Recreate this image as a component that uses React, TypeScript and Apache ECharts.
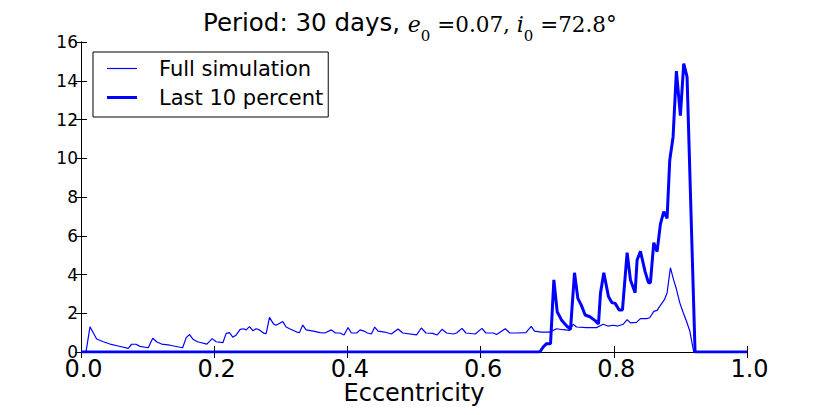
import React, { useEffect, useRef } from "react";
import * as echarts from "echarts";

// Full simulation (thin line): eccentricity and values
const eFull = [
  0.0, 0.0075, 0.0135, 0.0235, 0.0335, 0.0435, 0.056, 0.071, 0.076, 0.0826, 0.0886,
  0.101, 0.1077, 0.1146, 0.121, 0.1336, 0.1526, 0.158, 0.163, 0.168, 0.175, 0.189,
  0.197, 0.203, 0.213, 0.218, 0.223, 0.228, 0.233, 0.239, 0.244, 0.248, 0.253, 0.258,
  0.263, 0.268, 0.275, 0.278, 0.283, 0.289, 0.293, 0.303, 0.308, 0.314, 0.324, 0.328,
  0.333, 0.338, 0.349, 0.359, 0.366, 0.376, 0.382, 0.389, 0.395, 0.401, 0.406, 0.414,
  0.419, 0.425, 0.43, 0.436, 0.441, 0.446, 0.456, 0.466, 0.476, 0.483, 0.504, 0.511,
  0.518, 0.528, 0.535, 0.542, 0.549, 0.559, 0.564, 0.572, 0.578, 0.592, 0.602, 0.608,
  0.619, 0.624, 0.637, 0.644, 0.654, 0.668, 0.676, 0.681, 0.691, 0.704, 0.714, 0.724,
  0.734, 0.739, 0.744, 0.759, 0.774, 0.784, 0.791, 0.799, 0.806, 0.814, 0.82, 0.825,
  0.834, 0.84, 0.849, 0.854, 0.86, 0.865, 0.871, 0.876, 0.88, 0.885, 0.89, 0.894,
  0.899, 0.904, 0.909, 0.914, 0.92, 1.0,
];
const fullSim = [
  0, 0, 1.3, 0.67, 0.53, 0.41, 0.31, 0.19, 0.4, 0.4, 0.29,
  0.22, 0.71, 0.5, 0.41, 0.35, 0.22, 0.74, 0.9, 0.66, 0.53, 0.41,
  0.69, 0.53, 0.48, 0.96, 1.0, 0.76, 0.88, 1.17, 1.2, 1.14, 1.31, 1.1,
  1.2, 1.14, 0.96, 0.95, 1.79, 1.45, 1.38, 1.57, 1.29, 1.19, 1.03, 1.0,
  1.39, 1.14, 1.08, 1.0, 0.98, 1.14, 0.98, 0.98, 0.88, 1.26, 0.98, 0.98,
  1.14, 1.08, 0.98, 0.93, 1.29, 1.08, 1.03, 0.93, 1.19, 0.98, 0.88, 1.24,
  0.98, 0.96, 0.88, 1.17, 0.98, 0.93, 0.98, 1.22, 0.98, 0.93, 1.22, 0.98,
  0.98, 0.9, 1.2, 0.98, 0.98, 1.0, 1.32, 1.08, 1.03, 1.03, 1.2, 1.15,
  1.12, 1.43, 1.29, 1.26, 1.26, 1.43, 1.34, 1.38, 1.34, 1.43, 1.67, 1.5,
  1.53, 1.72, 1.72, 1.77, 2.1, 2.15, 2.46, 2.7, 3.05, 4.35, 3.7, 3.25,
  2.55, 2.05, 1.6, 1.1, 0, 0,
];

// Last 10 percent (thick line)
const eLast = [
  0.0, 0.689, 0.694, 0.699, 0.705, 0.71, 0.715, 0.722, 0.728, 0.735, 0.741, 0.746,
  0.751, 0.757, 0.764, 0.772, 0.777, 0.78, 0.785, 0.792, 0.797, 0.802, 0.808, 0.813,
  0.82, 0.825, 0.832, 0.835, 0.84, 0.847, 0.852, 0.855, 0.86, 0.865, 0.87, 0.875,
  0.88, 0.884, 0.889, 0.894, 0.9, 0.905, 0.91, 0.922, 1.0,
];
const last10 = [
  0, 0, 0.26, 0.43, 0.43, 3.72, 2.08, 1.62, 1.39, 1.17, 4.09, 2.77,
  2.43, 1.91, 1.82, 1.62, 1.45, 3.03, 4.09, 2.86, 2.55, 2.51, 2.17, 2.17,
  5.13, 3.72, 3.06, 4.75, 5.2, 4.15, 3.58, 3.58, 5.64, 5.18, 6.6, 7.24,
  6.9, 9.9, 11.1, 14.5, 12.2, 14.88, 14.2, 0, 0,
];

const seriesNames = ["Full simulation", "Last 10 percent"];
const xTickDecimals = 1;

const SANS = "DejaVu Sans";
const SERIF = "DejaVu Serif";

export default function App() {
  const ref = useRef<HTMLDivElement>(null);
  useEffect(() => {
    if (!ref.current) return;
    const chart = echarts.init(ref.current, undefined, { renderer: "svg" });
    const zip = (xs: number[], ys: number[]) => xs.map((x, i) => [x, ys[i]]);
    const axisLine = { show: true, lineStyle: { color: "#000", width: 1 } };
    const tick = { show: true, inside: true, length: 6, lineStyle: { color: "#000", width: 1 } };
    const main = { fontWeight: "normal", lineHeight: 24, padding: [0, 0, 8, 0], color: "#000", verticalAlign: "bottom" };
    chart.setOption({
      animation: false,
      backgroundColor: "#fff",
      title: {
        text: "{s|Period: 30 days, }{it|e}{sub|0}{m| =0.07, }{it|i}{sub|0}{m| =72.8°}",
        left: 203,
        top: 19,
        padding: 0,
        textStyle: {
          fontWeight: "normal",
          rich: {
            s: { ...main, fontFamily: SANS, fontSize: 24.5 },
            it: { ...main, fontFamily: SERIF, fontStyle: "italic", fontSize: 22 },
            m: { ...main, fontFamily: SERIF, fontSize: 21.5 },
            sub: { fontFamily: SERIF, fontWeight: "normal", fontSize: 15, lineHeight: 16, color: "#000", verticalAlign: "bottom" },
          },
        },
      },
      legend: {
        orient: "vertical",
        left: 93,
        top: 52,
        data: [
          { name: seriesNames[0], icon: "path://M0 0H30V1.2H0Z" },
          { name: seriesNames[1], icon: "path://M0 0H30V3H0Z" },
        ],
        itemWidth: 30,
        itemHeight: 14,
        itemGap: 8,
        padding: [6, 5, 9, 14],
        borderColor: "#000",
        borderWidth: 1,
        backgroundColor: "#fff",
        selectedMode: false,
        textStyle: {
          fontFamily: SANS,
          fontSize: 21,
          lineHeight: 21,
          color: "#000",
          padding: [0, 0, 0, 17],
        },
      },
      grid: { left: 81, top: 42, width: 666, height: 310, containLabel: false },
      xAxis: [
        {
          type: "value",
          min: 0,
          max: 1,
          interval: 0.2,
          position: "bottom",
          z: 3,
          name: "Eccentricity",
          nameLocation: "middle",
          nameGap: 29,
          nameMoveOverlap: false,
          nameTextStyle: { fontFamily: SANS, fontSize: 24, color: "#000" },
          axisLine,
          axisTick: tick,
          splitLine: { show: false },
          axisLabel: {
            fontFamily: SANS,
            fontSize: 24,
            lineHeight: 18,
            color: "#000",
            margin: 8,
            padding: [0, 0, 0, 5],
            formatter: (v: number) => v.toFixed(xTickDecimals),
          },
        },
        {
          type: "value",
          min: 0,
          max: 1,
          interval: 0.2,
          position: "top",
          axisLine,
          axisTick: tick,
          splitLine: { show: false },
          axisLabel: { show: false },
        },
      ],
      yAxis: [
        {
          type: "value",
          min: 0,
          max: 16,
          interval: 2,
          position: "left",
          axisLine,
          axisTick: tick,
          splitLine: { show: false },
          axisLabel: { fontFamily: SANS, fontSize: 17, lineHeight: 15, color: "#000", margin: 3 },
        },
        {
          type: "value",
          min: 0,
          max: 16,
          interval: 2,
          position: "right",
          axisLine,
          axisTick: tick,
          splitLine: { show: false },
          axisLabel: { show: false },
        },
      ],
      series: [
        {
          name: seriesNames[0],
          type: "line",
          xAxisIndex: 0,
          yAxisIndex: 0,
          data: zip(eFull, fullSim),
          symbol: "none",
          lineStyle: { color: "#0000ff", width: 1.2 },
          itemStyle: { color: "#0000ff" },
        },
        {
          name: seriesNames[1],
          type: "line",
          xAxisIndex: 0,
          yAxisIndex: 0,
          data: zip(eLast, last10),
          symbol: "none",
          lineStyle: { color: "#0000ff", width: 3 },
          itemStyle: { color: "#0000ff" },
        },
      ],
    });
    return () => chart.dispose();
  }, []);
  return <div ref={ref} style={{ width: 830, height: 415, margin: -8 }} />;
}
